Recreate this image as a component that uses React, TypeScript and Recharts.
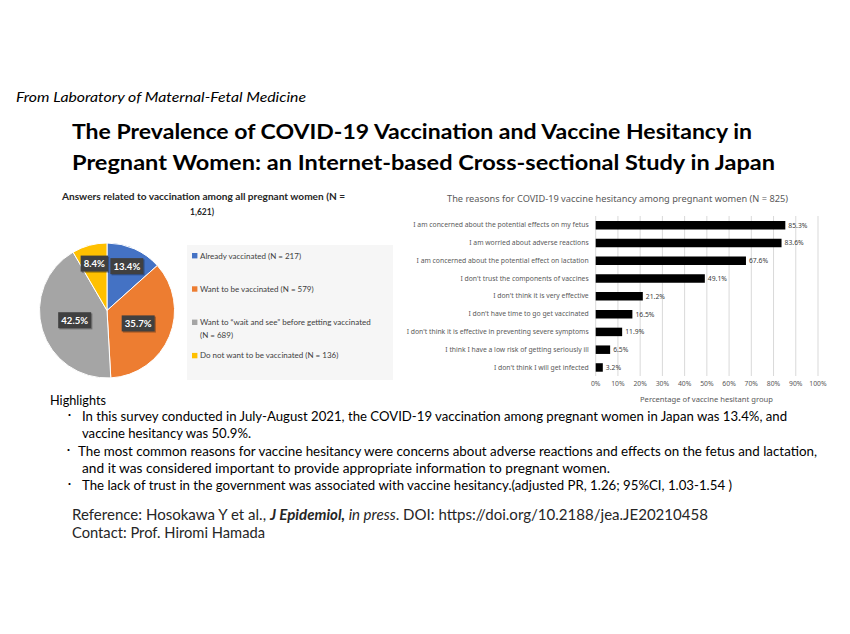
import React from "react";
import { PieChart, Pie, Cell, Legend, BarChart, Bar, XAxis, YAxis, CartesianGrid, LabelList } from "recharts";

// ---------- data ----------
const pieNames = [
  "Already vaccinated (N = 217)",
  "Want to be vaccinated (N = 579)",
  "Want to \u201cwait and see\u201d before getting vaccinated (N = 689)",
  "Do not want to be vaccinated (N = 136)",
];
const pieCounts = [217, 579, 689, 136];
const piePercentLabels = ["13.4%", "35.7%", "42.5%", "8.4%"];
const pieColors = ["#4472C4", "#ED7D31", "#A5A5A5", "#FFC000"];

const reasons = [
  "I am concerned about the potential effects on my fetus",
  "I am worried about adverse reactions",
  "I am concerned about the potential effect on lactation",
  "I don't trust the components of vaccines",
  "I don't think it is very effective",
  "I don't have time to go get vaccinated",
  "I don't think it is effective in preventing severe symptoms",
  "I think I have a low risk of getting seriously ill",
  "I don't think I will get infected",
];
const reasonValues = [85.3, 83.6, 67.6, 49.1, 21.2, 16.5, 11.9, 6.5, 3.2];
const xTicks = [0, 10, 20, 30, 40, 50, 60, 70, 80, 90, 100];

const pieData = pieNames.map((name, i) => ({ name, value: pieCounts[i] }));
const barData = reasons.map((name, i) => ({ name, value: reasonValues[i] }));

const SANS = "Lato, 'Open Sans', sans-serif";
const CHART_FONT = "'Noto Sans', 'Open Sans', sans-serif";
const RAD = Math.PI / 180;

const renderPieLabel = (props: any) => {
  const { cx, cy, midAngle, outerRadius, percent, index } = props;
  const r = outerRadius * (percent < 0.2 ? 0.72 : 0.5);
  const x = cx + r * Math.cos(-midAngle * RAD);
  const y = cy + r * Math.sin(-midAngle * RAD);
  const text = piePercentLabels[index];
  const w = text.length * 5.6 + 5;
  const h = 16;
  return (
    <g>
      <rect x={x - w / 2 + 1.2} y={y - h / 2 + 1.2} width={w} height={h} fill="#000" opacity={0.3} />
      <rect x={x - w / 2} y={y - h / 2} width={w} height={h} fill="#404040" />
      <text x={x} y={y + 3.4} textAnchor="middle" fontSize={9.6} fontWeight="bold" fill="#fff" fontFamily={SANS}>
        {text}
      </text>
    </g>
  );
};

const renderLegend = () => (
  <svg width={206} height={135} style={{ display: "block", background: "#F6F6F6" }}>
    {pieNames.map((name, i) => {
      const y = 10.7 + 33.3 * i;
      const split = name.length > 40 ? name.lastIndexOf(" (") : -1;
      const l1 = split > 0 ? name.slice(0, split) : name;
      const l2 = split > 0 ? name.slice(split + 1) : null;
      return (
        <g key={i}>
          <rect x={5} y={y - 2.7} width={5.4} height={5.4} fill={pieColors[i]} />
          <text x={13} y={y + 2.8} fontSize={8} fill="#404040" fontFamily={SANS}>
            {l1}
          </text>
          {l2 && (
            <text x={13} y={y + 2.8 + 13} fontSize={8} fill="#404040" fontFamily={SANS}>
              {l2}
            </text>
          )}
        </g>
      );
    })}
  </svg>
);

const YTick = (props: any) => {
  const { x, y, payload } = props;
  return (
    <text x={x} y={y} dy={2.4} textAnchor="end" fontSize={6.8} fill="#595959" fontFamily={CHART_FONT}>
      {payload.value}
    </text>
  );
};

type FTProps = {
  x: number;
  y: number;
  len?: number;
  size: number;
  children: React.ReactNode;
  weight?: string;
  italic?: boolean;
  fill?: string;
  family?: string;
  anchor?: "start" | "middle" | "end";
};
const FT = ({ x, y, len, size, children, weight, italic, fill, family, anchor }: FTProps) => (
  <text
    x={x}
    y={y}
    fontSize={size}
    fontWeight={weight || "normal"}
    fontStyle={italic ? "italic" : "normal"}
    fill={fill || "#000"}
    fontFamily={family || SANS}
    textAnchor={anchor || "start"}
    {...(len ? { textLength: len, lengthAdjust: "spacingAndGlyphs" } : {})}
  >
    {children}
  </text>
);

const Bullet = ({ x, y }: { x: number; y: number }) => (
  <text x={x} y={y} fontSize={10} textAnchor="middle" fill="#000" fontFamily="'Noto Sans CJK JP', sans-serif">
    ・
  </text>
);

export default function App() {
  return (
    <div style={{ position: "absolute", left: 0, top: 0, width: 850, height: 634, background: "#fff", overflow: "hidden" }}>
      <svg width={850} height={634} style={{ position: "absolute", left: 0, top: 0 }}>
        <FT x={16} y={102} len={290} size={13.5} italic>From Laboratory of Maternal-Fetal Medicine</FT>
        <FT x={72} y={138.5} len={680} size={20} weight="bold">
          The Prevalence of COVID-19 Vaccination and Vaccine Hesitancy in
        </FT>
        <FT x={72} y={169.5} len={703} size={20} weight="bold">
          Pregnant Women: an Internet-based Cross-sectional Study in Japan
        </FT>

        <FT x={62} y={200} len={283} size={9.5} weight="bold" fill="#262626">
          Answers related to vaccination among all pregnant women (N =
        </FT>
        <FT x={190} y={215} len={24} size={9.5} weight="bold" fill="#262626">1,621)</FT>

        <FT x={447} y={202} len={341} size={9.5} fill="#595959" family={CHART_FONT}>
          The reasons for COVID-19 vaccine hesitancy among pregnant women (N = 825)
        </FT>
        <FT x={640} y={402} len={133} size={7.5} fill="#595959" family={CHART_FONT}>
          Percentage of vaccine hesitant group
        </FT>

        <FT x={50} y={405} len={56} size={13}>Highlights</FT>
        <Bullet x={69.5} y={418.5} />
        <FT x={82} y={421} len={705} size={13}>
          In this survey conducted in July-August 2021, the COVID-19 vaccination among pregnant women in Japan was 13.4%, and
        </FT>
        <FT x={82} y={438} len={169} size={13}>vaccine hesitancy was 50.9%.</FT>
        <Bullet x={68.5} y={454} />
        <FT x={78} y={456} len={739} size={13}>
          The most common reasons for vaccine hesitancy were concerns about adverse reactions and effects on the fetus and lactation,
        </FT>
        <FT x={82} y={473} len={528} size={13}>
          and it was considered important to provide appropriate information to pregnant women.
        </FT>
        <Bullet x={69.5} y={488} />
        <FT x={82} y={490} len={650} size={13}>
          The lack of trust in the government was associated with vaccine hesitancy.(adjusted PR, 1.26; 95%CI, 1.03-1.54 )
        </FT>

        <FT x={72} y={520} len={636} size={15} fill="#262626">
          Reference: Hosokawa Y et al.,{" "}
          <tspan fontStyle="italic" fontWeight="bold">J Epidemiol,</tspan>
          <tspan fontStyle="italic"> in press</tspan>. DOI: https://doi.org/10.2188/jea.JE20210458
        </FT>
        <FT x={72} y={538} len={193} size={15} fill="#262626">Contact: Prof. Hiromi Hamada</FT>
      </svg>

      <div style={{ position: "absolute", left: 30, top: 180 }}>
        <PieChart width={370} height={205} margin={{ top: 0, right: 0, bottom: 0, left: 0 }}>
          <Pie
            data={pieData}
            dataKey="value"
            nameKey="name"
            cx={77}
            cy={130.5}
            outerRadius={67.5}
            startAngle={90}
            endAngle={-270}
            stroke="#fff"
            strokeWidth={1}
            labelLine={false}
            label={renderPieLabel}
            isAnimationActive={false}
          >
            {pieData.map((_, i) => (
              <Cell key={i} fill={pieColors[i]} />
            ))}
          </Pie>
          <Legend
            layout="vertical"
            align="right"
            verticalAlign="middle"
            content={renderLegend}
            wrapperStyle={{ left: 157, top: 65, width: 206, height: 135, right: "auto", bottom: "auto" }}
          />
        </PieChart>
      </div>

      <div style={{ position: "absolute", left: 400, top: 185 }}>
        <BarChart
          width={440}
          height={225}
          layout="vertical"
          data={barData}
          margin={{ top: 31, right: 22, bottom: 20, left: 0 }}
          barCategoryGap={0}
        >
          <CartesianGrid horizontal={false} vertical={true} stroke="#D9D9D9" strokeWidth={1} />
          <XAxis
            type="number"
            domain={[0, 100]}
            ticks={xTicks}
            interval={0}
            tickFormatter={(v: number) => `${v}%`}
            axisLine={false}
            tickLine={false}
            tickSize={0}
            tickMargin={5.5}
            height={14}
            tick={{ fontSize: 6.8, fill: "#595959", fontFamily: CHART_FONT }}
          />
          <YAxis
            type="category"
            dataKey="name"
            width={195.7}
            axisLine={false}
            tickLine={false}
            tickSize={0}
            tickMargin={7}
            interval={0}
            tick={<YTick />}
          />
          <Bar dataKey="value" fill="#000" barSize={8.5} isAnimationActive={false}>
            <LabelList
              dataKey="value"
              position="right"
              offset={3}
              formatter={(v: any) => `${Number(v).toFixed(1)}%`}
              style={{ fontSize: 6.8, fill: "#404040", fontFamily: CHART_FONT }}
            />
          </Bar>
        </BarChart>
      </div>
    </div>
  );
}
